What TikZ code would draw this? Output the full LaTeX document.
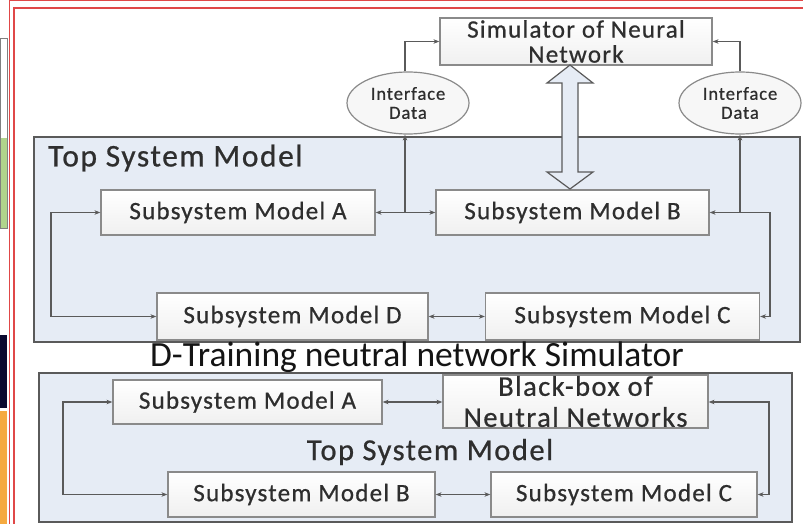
\documentclass[tikz,border=0pt]{standalone}
\usepackage{fontspec}
\setmainfont{Carlito}
\newfontfamily\corb[LetterSpace=5,FakeBold=0.7]{Carlito}
\usetikzlibrary{shapes.geometric,arrows.meta,calc}
\definecolor{txtgray}{HTML}{2E2E2E}
\definecolor{linegray}{HTML}{5A5A5A}
\definecolor{boxline}{HTML}{8A8A8A}
\definecolor{panelfill}{HTML}{E6ECF5}
\definecolor{panelline}{HTML}{5A5A5A}
\definecolor{redline}{HTML}{E04848}
\definecolor{navy}{HTML}{0A0A30}
\definecolor{orng}{HTML}{F5AA40}
\definecolor{lgreen}{HTML}{B0D48C}
\definecolor{captxt}{HTML}{141414}
\tikzset{
  sbox/.style={draw=boxline, line width=1.2pt, top color=white, bottom color=gray!12,
    minimum width=#1, minimum height=45pt, inner sep=0pt, text=txtgray,
    font=\corb\fontsize{25}{25}\selectfont, align=center},
  sbox/.default=272pt,
  idata/.style={ellipse, draw=boxline, line width=1.2pt, fill=gray!6, minimum width=122pt,
    minimum height=62pt, inner sep=0pt, text=txtgray, align=center,
    font=\corb\fontsize{18.5}{19}\selectfont},
  panel/.style={draw=panelline, line width=1.2pt, fill=panelfill},
  conn/.style={draw=linegray, line width=1.1pt, -{Stealth[length=6pt,width=4.5pt]}},
  dconn/.style={draw=linegray, line width=1.1pt, {Stealth[length=6pt,width=4.5pt]}-{Stealth[length=6pt,width=4.5pt]}},
  ttl/.style={text=txtgray, font=\corb\fontsize{31.5}{32}\selectfont, inner sep=0pt}
}
\begin{document}
\begin{tikzpicture}[x=1pt,y=-1pt]
\useasboundingbox (0,0) rectangle (803,524);
% left strip
\draw[gray, line width=0.8pt] (0,38) rectangle (7,228);
\fill[lgreen] (0.5,138) rectangle (6.5,227.5);
\fill[navy] (0,335) rectangle (7,408);
\fill[orng] (0,411) rectangle (7,524);
% red frames
\draw[redline, line width=1.4pt] (9.5,524) -- (9.5,0.7) -- (803,0.7);
\draw[redline, line width=1.4pt] (14,524) -- (14,8) -- (803,8);

% ---------- top part ----------
\draw[panel] (34,137) rectangle (800,342);
\node[ttl, anchor=west] (t1) at (48,158) {Top System Model};

\node[sbox=272pt, minimum height=47pt] (sim) at (576,41.5) {Simulator of Neural\\Network};
\node[idata] (eL) at (408,103) {Interface\\Data};
\node[idata] (eR) at (740,103) {Interface\\Data};

\node[sbox=274pt] (A) at (238,212.5) {Subsystem Model A};
\node[sbox=273pt] (B) at (572.5,212.5) {Subsystem Model B};
\node[sbox=271pt, minimum height=47pt] (D) at (292.5,316.5) {Subsystem Model D};
\node[sbox=274pt, minimum height=47pt] (C) at (622.5,316.5) {Subsystem Model C};

% hollow double arrow between simulator and B
\draw[draw=linegray, line width=1.2pt, fill=panelfill, line join=miter]
  (570,65) -- (593,83) -- (578,83) -- (578,172) -- (593,172) -- (570,189)
  -- (547,172) -- (562,172) -- (562,83) -- (547,83) -- cycle;

\coordinate (jL) at (405,212.5);
\coordinate (jR) at (740,212.5);
\coordinate (kR) at (770,212.5);
\coordinate (lL) at (51,212.5);

\draw[dconn] (A.east) -- (B.west);
\draw[conn] (jL) -- (jL |- eL.south);
\draw[conn] (jL |- eL.north) |- (sim.west);
\draw[conn] (jR) -- (B.east);
\draw[conn] (jR) -- (eR.south);
\draw[conn] (eR.north) |- (sim.east);
\draw[conn] (jR) -- (kR) |- (C.east);
\draw[dconn] (D.east) -- (C.west);
\draw[dconn] (A.west) -- (lL) |- (D.west);

% caption
\node[text=captxt, font=\fontsize{35.5}{40}\selectfont, inner sep=0pt] (cap) at (417,357) {D-Training neutral network Simulator};

% ---------- bottom part ----------
\draw[panel] (39,373) rectangle (792,522);
\node[sbox=269pt, minimum height=44pt] (A2) at (247.5,402) {Subsystem Model A};
\node[sbox=265pt, minimum height=53pt, font=\corb\fontsize{28.5}{31}\selectfont] (BB) at (575.5,401.5) {Black-box of\\Neutral Networks};
\node[ttl, font=\corb\fontsize{30.5}{32}\selectfont] (t2) at (430,452) {Top System Model};
\node[sbox=267pt] (B2) at (301.5,494.5) {Subsystem Model B};
\node[sbox=266pt] (C2) at (624,494.5) {Subsystem Model C};

\coordinate (lL2) at (63,402);
\coordinate (rR2) at (769,402);
\draw[dconn] (A2.east) -- (BB.west |- A2.east);
\draw[dconn] (A2.west) -- (lL2) |- (B2.west);
\draw[dconn] (BB.east |- rR2) -- (rR2) |- (C2.east);
\draw[dconn] (B2.east) -- (C2.west);
\end{tikzpicture}
\end{document}
